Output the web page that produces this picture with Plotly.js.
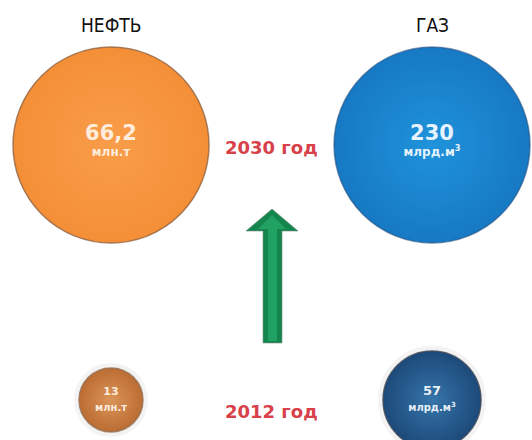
<!DOCTYPE html>
<html>
<head>
<meta charset="utf-8">
<script src="https://cdn.plot.ly/plotly-3.0.1.min.js"></script>
<style>html,body{margin:0;padding:0;background:#fff;}#chart{width:532px;height:440px;}</style>
</head>
<body>
<div id="chart"></div>
<script>
// ---- data ----
const resources = ['НЕФТЬ', 'ГАЗ'];
const years = [2012, 2030];
const yearLabels = ['2012 год', '2030 год'];
const oilValues = [13, 66.2];
const oilLabels = ['13', '66,2'];
const oilUnit = 'млн.т';
const gasValues = [57, 230];
const gasLabels = ['57', '230'];
const gasUnit = 'млрд.м<sup>3</sup>';

// ---- styling ----
const oilSizes = [64, 196];
const gasSizes = [98, 196];
const oilCenter = ['#dc9458', '#f99d4a'];
const oilEdge = ['#bb6d33', '#f48f37'];
const gasCenter = ['#3775aa', '#1f93db'];
const gasEdge = ['#1c4a7a', '#1679c3'];
const valueFont = [11, 21];
const unitFont = [10, 12];
const gasValueFont = [13, 21];

function labelText(vals, unit, vf, uf) {
  return vals.map((v, i) => `<b><span style="font-size:${vf[i]}px">${v}</span><br><span style="font-size:${uf[i]}px">${unit}</span></b>`);
}

const halo = {
  x: [0, 1], y: [2012, 2012], mode: 'markers', hoverinfo: 'skip', showlegend: false,
  marker: {size: [oilSizes[0] + 10, gasSizes[0] + 10], color: 'rgba(205,205,205,0.35)', line: {width: 0}}
};

const oil = {
  x: years.map(() => 0), y: years, mode: 'markers+text', name: resources[0], showlegend: false,
  customdata: oilValues,
  text: labelText(oilLabels, oilUnit, valueFont, unitFont),
  textposition: 'middle center',
  textfont: {family: 'DejaVu Sans, Verdana, sans-serif', color: 'rgba(255,243,230,0.95)', size: 12},
  marker: {size: oilSizes, color: oilEdge, opacity: 1,
    gradient: {type: 'radial', color: oilCenter},
    line: {color: ['rgba(150,110,80,0.8)', 'rgba(140,95,60,0.75)'], width: [1.5, 1.5]}}
};
const gas = {
  x: years.map(() => 1), y: years, mode: 'markers+text', name: resources[1], showlegend: false,
  customdata: gasValues,
  text: labelText(gasLabels, gasUnit, gasValueFont, unitFont),
  textposition: 'middle center',
  textfont: {family: 'DejaVu Sans, Verdana, sans-serif', color: 'rgba(245,250,255,0.95)', size: 12},
  marker: {size: gasSizes, color: gasEdge, opacity: 1,
    gradient: {type: 'radial', color: gasCenter},
    line: {color: ['rgba(60,70,90,0.8)', 'rgba(40,80,130,0.6)'], width: [1.5, 1.5]}}
};

const annotations = [];
resources.forEach((r, i) => annotations.push({
  x: i, xref: 'x', y: 1 - 25 / 440, yref: 'paper', yanchor: 'middle', text: r, showarrow: false,
  font: {family: 'Liberation Sans Narrow, DejaVu Sans Condensed, sans-serif', size: 19, color: '#111'}
}));
years.forEach((yr, i) => annotations.push({
  x: 0.5, xref: 'x', y: yr, yref: 'y', yanchor: 'middle', yshift: i === 0 ? -12 : -2, text: '<b>' + yearLabels[i] + '</b>', showarrow: false,
  font: {family: 'DejaVu Sans, Verdana, sans-serif', size: 18, color: '#d8404a'}
}));

// arrow (decoration) in paper coordinates
const P = (px, py) => (px / 532).toFixed(4) + ',' + (1 - py / 440).toFixed(4);
const arrowPath = 'M ' + P(263, 343) + ' L ' + P(282, 343) + ' L ' + P(282, 231) + ' L ' + P(298, 231) +
  ' L ' + P(272, 209) + ' L ' + P(246, 231) + ' L ' + P(263, 231) + ' Z';
const arrowHi = 'M ' + P(268, 341) + ' L ' + P(277, 341) + ' L ' + P(277, 229) + ' L ' + P(286, 229) +
  ' L ' + P(272, 215) + ' L ' + P(258, 229) + ' L ' + P(268, 229) + ' Z';

const layout = {
  width: 532, height: 440,
  margin: {l: 0, r: 0, t: 0, b: 0},
  paper_bgcolor: '#fff', plot_bgcolor: '#fff',
  xaxis: {range: [-0.3458, 1.3115], visible: false, fixedrange: true},
  yaxis: {range: [2009.176, 2040.235], visible: false, fixedrange: true},
  annotations: annotations,
  shapes: [
    {type: 'path', xref: 'paper', yref: 'paper', path: arrowPath, fillcolor: '#14864d', line: {color: 'rgba(120,140,130,0.6)', width: 1}, layer: 'below'},
    {type: 'path', xref: 'paper', yref: 'paper', path: arrowHi, fillcolor: '#22a262', line: {width: 0}, layer: 'below'}
  ]
};

Plotly.newPlot('chart', [halo, oil, gas], layout, {staticPlot: true});
</script>
</body>
</html>
